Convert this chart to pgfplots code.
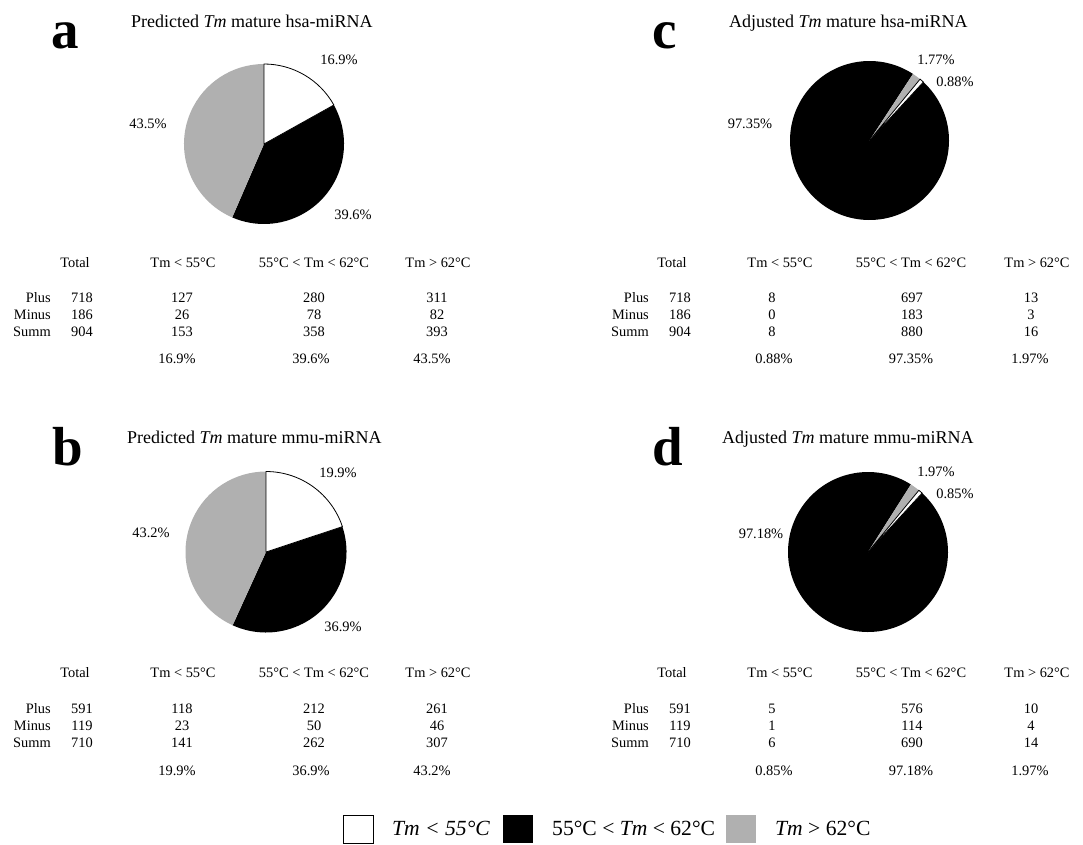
\documentclass[border=0pt]{standalone}
\usepackage{fontspec}
\setmainfont{Liberation Serif}
\usepackage{pgfplots}
\pgfplotsset{compat=1.18}
\definecolor{pgray}{RGB}{176,176,176}
\tikzset{
  tab/.style={font=\fontsize{14.4}{17}\selectfont, inner sep=0pt, anchor=base},
  pct/.style={font=\fontsize{14.4}{17}\selectfont, inner sep=0pt, anchor=base},
  ttl/.style={font=\fontsize{18}{21}\selectfont, inner sep=0pt, anchor=base west},
  let/.style={font=\fontsize{55}{60}\selectfont\bfseries, inner sep=0pt, anchor=base west},
  leg/.style={font=\fontsize{21.6}{26}\selectfont, inner sep=0pt, anchor=base west},
}
% pie: cx, cy, radius, start angle, p(white), p(black), p(gray) in percent
\newcommand{\piechart}[7]{%
  \fill[black] (axis cs:#1,#2) -- ++({#4-3.6*#5}:#3pt) arc[start angle={#4-3.6*#5}, end angle={#4-3.6*#5-3.6*#6}, radius=#3pt] -- cycle;
  \fill[pgray] (axis cs:#1,#2) -- ++({#4-3.6*#5-3.6*#6}:#3pt) arc[start angle={#4-3.6*#5-3.6*#6}, end angle={#4-3.6*#5-3.6*#6-3.6*#7}, radius=#3pt] -- cycle;
  \filldraw[fill=white, draw=black, line width=0.8pt] (axis cs:#1,#2) -- ++(#4:#3pt) arc[start angle=#4, end angle={#4-3.6*#5}, radius=#3pt] -- cycle;
}
\newcommand{\headL}[1]{%
  \node[tab] at (axis cs:75,#1) {Total};
  \node[tab] at (axis cs:183,#1) {Tm < 55°C};
  \node[tab] at (axis cs:314,#1) {55°C < Tm < 62°C};
  \node[tab] at (axis cs:438,#1) {Tm > 62°C};}
\newcommand{\headR}[1]{%
  \node[tab] at (axis cs:672,#1) {Total};
  \node[tab] at (axis cs:780,#1) {Tm < 55°C};
  \node[tab] at (axis cs:911,#1) {55°C < Tm < 62°C};
  \node[tab] at (axis cs:1037,#1) {Tm > 62°C};}
\newcommand{\rowL}[6]{%
  \node[tab, anchor=base east] at (axis cs:51,#1) {#2};
  \node[tab] at (axis cs:82,#1) {#3};
  \node[tab] at (axis cs:182,#1) {#4};
  \node[tab] at (axis cs:314,#1) {#5};
  \node[tab] at (axis cs:437,#1) {#6};}
\newcommand{\rowR}[6]{%
  \node[tab, anchor=base east] at (axis cs:649,#1) {#2};
  \node[tab] at (axis cs:680,#1) {#3};
  \node[tab] at (axis cs:772,#1) {#4};
  \node[tab] at (axis cs:912,#1) {#5};
  \node[tab] at (axis cs:1031,#1) {#6};}
\newcommand{\pctL}[4]{%
  \node[pct] at (axis cs:177,#1) {#2\%};
  \node[pct] at (axis cs:311,#1) {#3\%};
  \node[pct] at (axis cs:432,#1) {#4\%};}
\newcommand{\pctR}[4]{%
  \node[pct] at (axis cs:774,#1) {#2\%};
  \node[pct] at (axis cs:911,#1) {#3\%};
  \node[pct] at (axis cs:1030,#1) {#4\%};}
\begin{document}
\begin{tikzpicture}
\begin{axis}[x=1pt, y=1pt, xmin=0, xmax=1083, ymin=0, ymax=844, y dir=reverse,
  hide axis, clip=false, scale only axis]
\path (axis cs:0,0) rectangle (axis cs:1083,844);
% ---------- panel a ----------
\node[let] at (axis cs:51,48.5) {a};
\node[ttl] at (axis cs:131,27) {Predicted \textit{Tm} mature hsa-miRNA};
\piechart{264}{144}{80}{90}{16.9}{39.6}{43.5}
\node[pct] at (axis cs:339,64) {16.9\%};
\node[pct] at (axis cs:148,128) {43.5\%};
\node[pct] at (axis cs:353,219) {39.6\%};
\headL{267}
\rowL{302}{Plus}{718}{127}{280}{311}
\rowL{319}{Minus}{186}{26}{78}{82}
\rowL{336}{Summ}{904}{153}{358}{393}
\pctL{363}{16.9}{39.6}{43.5}
% ---------- panel c ----------
\node[let] at (axis cs:652,48.5) {c};
\node[ttl] at (axis cs:729,27) {Adjusted \textit{Tm} mature hsa-miRNA};
\piechart{869.5}{140.5}{79.5}{50.5}{0.88}{97.35}{1.77}
\node[pct] at (axis cs:936,64) {1.77\%};
\node[pct] at (axis cs:955,86) {0.88\%};
\node[pct] at (axis cs:750,128) {97.35\%};
\headR{267}
\rowR{302}{Plus}{718}{8}{697}{13}
\rowR{319}{Minus}{186}{0}{183}{3}
\rowR{336}{Summ}{904}{8}{880}{16}
\pctR{363}{0.88}{97.35}{1.97}
% ---------- panel b ----------
\node[let] at (axis cs:52,465) {b};
\node[ttl] at (axis cs:127,443) {Predicted \textit{Tm} mature mmu-miRNA};
\piechart{266}{552}{80.5}{90}{19.9}{36.9}{43.2}
\node[pct] at (axis cs:338,477) {19.9\%};
\node[pct] at (axis cs:151,537) {43.2\%};
\node[pct] at (axis cs:343,631) {36.9\%};
\headL{677}
\rowL{713}{Plus}{591}{118}{212}{261}
\rowL{730}{Minus}{119}{23}{50}{46}
\rowL{747}{Summ}{710}{141}{262}{307}
\pctL{775}{19.9}{36.9}{43.2}
% ---------- panel d ----------
\node[let] at (axis cs:652,465) {d};
\node[ttl] at (axis cs:722,443) {Adjusted \textit{Tm} mature mmu-miRNA};
\piechart{868}{552}{80}{50.5}{0.85}{97.18}{1.97}
\node[pct] at (axis cs:936,476) {1.97\%};
\node[pct] at (axis cs:955,498) {0.85\%};
\node[pct] at (axis cs:761,538) {97.18\%};
\headR{677}
\rowR{713}{Plus}{591}{5}{576}{10}
\rowR{730}{Minus}{119}{1}{114}{4}
\rowR{747}{Summ}{710}{6}{690}{14}
\pctR{775}{0.85}{97.18}{1.97}
% ---------- legend ----------
\draw[line width=0.8pt, fill=white] (axis cs:343,815) rectangle (axis cs:373,843);
\fill[black] (axis cs:503,815) rectangle (axis cs:533,843);
\fill[pgray] (axis cs:726,815) rectangle (axis cs:756,843);
\node[leg] at (axis cs:392,835) {\textit{Tm < 55°C}};
\node[leg] at (axis cs:552,835) {55°C < \textit{Tm} < 62°C};
\node[leg] at (axis cs:775,835) {\textit{Tm} > 62°C};
\end{axis}
\end{tikzpicture}
\end{document}
